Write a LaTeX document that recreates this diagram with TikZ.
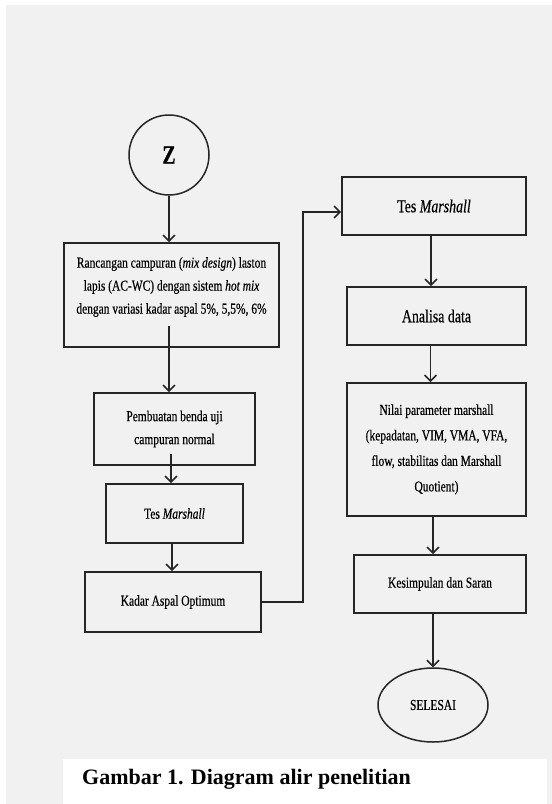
\documentclass[tikz,border=0pt]{standalone}
\usepackage{fontspec}
\setmainfont{Liberation Serif}
\newfontfamily\cond[FakeStretch=0.76,FakeBold=0.4]{Liberation Serif}
\usetikzlibrary{arrows.meta,shapes.geometric,calc}
\definecolor{bggray}{HTML}{F1F1F1}
\definecolor{ln}{HTML}{262626}
\begin{document}
\begin{tikzpicture}[x=1pt,y=-1pt,
  box/.style={draw=ln,line width=1.8pt,fill=bggray,align=center,inner sep=0pt,
    font=\cond\fontsize{15.1}{23}\selectfont,text=black},
  txt/.style={align=center,inner sep=0pt,font=\cond\fontsize{15.1}{23}\selectfont,text=black},
  arr/.style={draw=ln,line width=1.5pt,-{Straight Barb[length=6pt,width=12pt,line width=1.5pt]}},
  ]
\useasboundingbox (0,0) rectangle (552,804);
\fill[white] (0,0) rectangle (552,804);
\fill[bggray] (6,5) rectangle (552,804);
\fill[white] (63,759) rectangle (547,804);

% left column
\node[circle,draw=ln,line width=1.5pt,minimum size=80pt,inner sep=0pt,
  font=\cond\bfseries\fontsize{26}{26}\selectfont] (z) at (169,155) {Z};
\node[box,minimum width=215pt,minimum height=104pt] (b1) at (171.5,295) {};
\node[txt] (b1t) at (171.5,287) {Rancangan campuran (\textit{mix design}) laston\\lapis (AC-WC) dengan sistem \textit{hot mix}\\dengan variasi kadar aspal 5\%, 5,5\%, 6\%};
\node[box,minimum width=161pt,minimum height=72pt] (b2) at (174.5,429) {Pembuatan benda uji\\campuran normal};
\node[box,minimum width=137pt,minimum height=59pt] (b3) at (174.5,513.5) {Tes \textit{Marshall}};
\node[box,minimum width=176pt,minimum height=60pt] (b4) at (173,602) {Kadar Aspal Optimum};

% right column
\node[box,minimum width=184pt,minimum height=58pt,font=\cond\fontsize{18.3}{20}\selectfont] (b5) at (434,206) {Tes \textit{Marshall}};
\node[box,minimum width=179pt,minimum height=58pt,font=\cond\fontsize{18.3}{20}\selectfont] (b6) at (436.5,316) {Analisa data};
\node[box,minimum width=179pt,minimum height=133pt,font=\cond\fontsize{15.1}{25.5}\selectfont] (b7) at (436.5,449.5) {Nilai parameter marshall\\(kepadatan, VIM, VMA, VFA,\\flow, stabilitas dan Marshall\\Quotient)};
\node[box,minimum width=172pt,minimum height=58pt] (b8) at (440,584) {Kesimpulan dan Saran};
\node[ellipse,draw=ln,line width=1.5pt,fill=bggray,minimum width=110pt,minimum height=74pt,inner sep=0pt,
  font=\cond\fontsize{15.1}{16}\selectfont] (e) at (433,705) {SELESAI};

% connectors
\draw[arr] (z.south) -- (z.south |- b1.north);
\draw[arr] ([xshift=-2.5pt,yshift=22pt]b1.south) -- ([xshift=-2.5pt]b1.south |- b2.north);
\draw[arr] ([xshift=-3.5pt,yshift=12pt]b2.south) -- ([xshift=-3.5pt]b2.south |- b3.north);
\draw[arr] ([xshift=-2.5pt]b3.south) -- ([xshift=-2.5pt]b3.south |- b4.north);
\draw[arr] (b4.east) -- ++(41,0) |- ([yshift=-6pt]b5.west);
\draw[arr] ([xshift=-3pt]b5.south) -- ([xshift=-3pt]b5.south |- b6.north);
\draw[arr] ([xshift=-6pt]b6.south) -- ([xshift=-6pt]b6.south |- b7.north);
\draw[arr] (e.north |- b7.south) -- (e.north |- b8.north);
\draw[arr] (e.north |- b8.south) -- (e.north);

% caption
\node[anchor=base west,inner sep=0pt,font=\bfseries\fontsize{22}{24}\selectfont] (cap) at (82,784) {Gambar 1. Diagram alir penelitian};
\end{tikzpicture}
\end{document}
